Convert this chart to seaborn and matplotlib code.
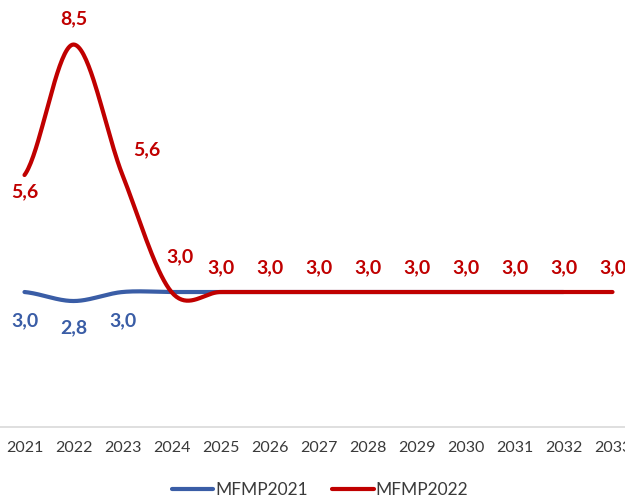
import numpy as np
import pandas as pd
import matplotlib
matplotlib.use("Agg")
import matplotlib.pyplot as plt
import seaborn as sns

years = ['2021', '2022', '2023', '2024', '2025', '2026', '2027',
         '2028', '2029', '2030', '2031', '2032', '2033']
mfmp2022 = [5.6, 8.5, 5.6, 3.0, 3.0, 3.0, 3.0, 3.0, 3.0, 3.0, 3.0, 3.0, 3.0]
mfmp2021 = [3.0, 2.8, 3.0, 3.0, 3.0, 3.0, 3.0, 3.0, 3.0, 3.0, 3.0, 3.0]

RED = '#C00000'
BLUE = '#3A5DA6'


# excel-like smoothed line (catmull-rom as bezier segments)
def smooth(y, n=40):
    y = list(y)
    xs, ys = [], []
    t = np.linspace(0, 1, n)
    for i in range(len(y) - 1):
        p0 = y[i - 1] if i > 0 else y[i]
        p3 = y[i + 2] if i + 2 < len(y) else y[i + 1]
        c1 = y[i] + (y[i + 1] - p0) / 6
        c2 = y[i + 1] - (p3 - y[i]) / 6
        b = ((1 - t) ** 3 * y[i] + 3 * (1 - t) ** 2 * t * c1
             + 3 * (1 - t) * t ** 2 * c2 + t ** 3 * y[i + 1])
        xs.extend(i + t)
        ys.extend(b)
    return np.array(xs), np.array(ys)


sns.set_theme(style='white')
plt.rcParams['font.family'] = ['Lato', 'DejaVu Sans']

fig = plt.figure(figsize=(6.25, 4.98), dpi=100)
ax = fig.add_axes([0, 71 / 498, 637 / 625, 427 / 498])

bx, by = smooth(mfmp2021)
rx, ry = smooth(mfmp2022)
sns.lineplot(x=bx, y=by, ax=ax, color=BLUE, linewidth=3, label='MFMP2021',
             solid_capstyle='round')
sns.lineplot(x=rx, y=ry, ax=ax, color=RED, linewidth=3, label='MFMP2022',
             solid_capstyle='round')

# data labels, offsets in pixels
red_off = [(0, -17), (0, 26), (24, 25), (8, 35)] + [(0, 24)] * 9
blue_off = [(0, -29), (0, -27), (0, -29)]
for i, v in enumerate(mfmp2022):
    ax.annotate(f'{v:.1f}'.replace('.', ','), (i, v), xytext=red_off[i],
                textcoords='offset pixels', ha='center', va='center',
                color=RED, fontsize=14, fontweight='bold')
for i, v in enumerate(mfmp2021[:3]):
    ax.annotate(f'{v:.1f}'.replace('.', ','), (i, v), xytext=blue_off[i],
                textcoords='offset pixels', ha='center', va='center',
                color=BLUE, fontsize=14, fontweight='bold')

ax.set_xlim(-0.5, 12.5)
ax.set_ylim(0, 9.49)
ax.set_xticks(range(len(years)))
ax.set_xticklabels(years, fontsize=11.5, color='#3A3A3A')
ax.set_yticks([])
ax.tick_params(axis='x', length=0, pad=10)
for s in ['top', 'left', 'right']:
    ax.spines[s].set_visible(False)
ax.spines['bottom'].set_color('#D9D9D9')
ax.spines['bottom'].set_linewidth(1.2)

h, l = ax.get_legend_handles_labels()
ax.get_legend().remove()
fig.legend(h, l, loc='center', bbox_to_anchor=(320 / 625, 1 - 490 / 498),
           ncol=2, frameon=False, fontsize=12.5, handlelength=2.4,
           handletextpad=0.1, columnspacing=1.4, labelcolor='#3A3A3A')

fig.savefig('out.png', dpi=100)
